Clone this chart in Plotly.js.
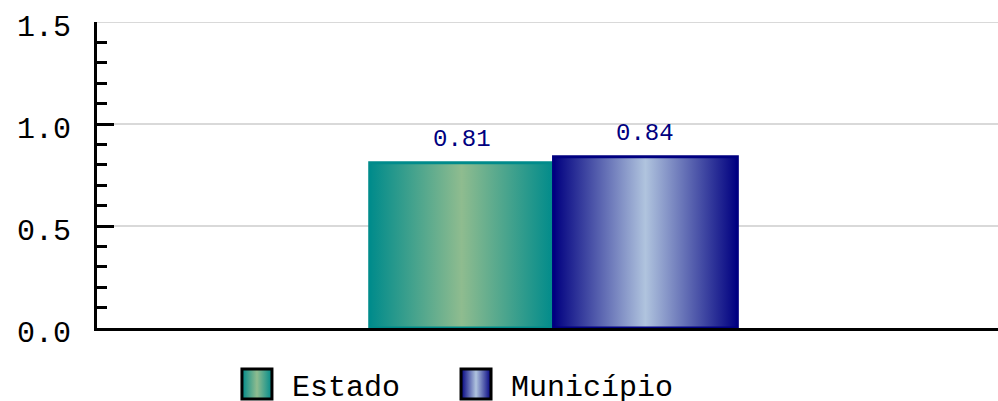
<!DOCTYPE html>
<html>
<head>
<meta charset="utf-8">
<script src="https://cdn.plot.ly/plotly-3.0.1.min.js"></script>
<style>
html,body{margin:0;padding:0;background:#fff;}
#chart{width:998px;height:401px;}
</style>
</head>
<body>
<svg width="0" height="0" style="position:absolute">
  <defs>
    <linearGradient id="gradEstado" x1="0" y1="0" x2="1" y2="0">
      <stop offset="0" stop-color="#008B8B"/>
      <stop offset="0.5" stop-color="#8FBC8F"/>
      <stop offset="1" stop-color="#008B8B"/>
    </linearGradient>
    <linearGradient id="gradMunicipio" x1="0" y1="0" x2="1" y2="0">
      <stop offset="0" stop-color="#000080"/>
      <stop offset="0.5" stop-color="#B0C4DE"/>
      <stop offset="1" stop-color="#000080"/>
    </linearGradient>
  </defs>
</svg>
<div id="chart"></div>
<script>
// ---- data ----
const categories = ['Índice'];
const seriesNames = ['Estado', 'Município'];
const estadoValues = [0.81];
const municipioValues = [0.84];
const yTickVals = [0, 0.5, 1.0, 1.5];
const yTickText = ['0.0', '0.5', '1.0', '1.5'];

// ---- style ----
const edgeColors = ['#008B8B', '#000080'];
const gradientIds = ['gradEstado', 'gradMunicipio'];
const legendIds = ['legend', 'legend2'];
const legendX = [0.2224, 0.4419];
const LEGEND_DROP = 9;
const FONT = 'Liberation Mono, DejaVu Sans Mono, monospace';
const bargap = 0.592;

const seriesValues = [estadoValues, municipioValues];
const traces = seriesNames.map((name, i) => ({
  type: 'bar',
  name: name,
  x: categories,
  y: seriesValues[i],
  legend: legendIds[i],
  marker: {color: edgeColors[i], line: {color: edgeColors[i], width: 3}},
  textposition: 'none',
  hoverinfo: 'none'
}));

// value labels above each bar (positioned via the axis scale)
const barW = (1 - bargap) / seriesNames.length;
const annotations = [];
seriesNames.forEach((name, i) => {
  seriesValues[i].forEach((v, j) => {
    annotations.push({
      xref: 'x', yref: 'y',
      x: j - (1 - bargap) / 2 + barW * (i + 0.5),
      y: v,
      text: v.toFixed(2),
      showarrow: false,
      yanchor: 'bottom',
      yshift: 8,
      font: {family: FONT, size: 24, color: '#000080'}
    });
  });
});

function legendCfg(x) {
  return {
    orientation: 'h',
    xref: 'container', yref: 'container',
    x: x, xanchor: 'left',
    y: 0, yanchor: 'bottom',
    itemwidth: 60,
    font: {family: FONT, size: 30, color: '#000'},
    bgcolor: 'rgba(0,0,0,0)',
    borderwidth: 0
  };
}

const layout = {
  width: 998, height: 401,
  margin: {l: 97, r: 0, t: 22, b: 73, pad: 0, autoexpand: false},
  paper_bgcolor: '#fff', plot_bgcolor: '#fff',
  barmode: 'group',
  bargap: bargap,
  bargroupgap: 0,
  showlegend: true,
  font: {family: FONT, size: 30, color: '#000'},
  xaxis: {
    type: 'category',
    range: [-0.5067, 0.4933],
    showticklabels: false,
    ticks: '',
    showgrid: false,
    zeroline: false,
    showline: true, linecolor: '#000', linewidth: 3,
    fixedrange: true
  },
  yaxis: {
    range: [0, 1.5],
    tickvals: yTickVals,
    ticktext: yTickText,
    ticks: 'inside', ticklen: 17, tickwidth: 3, tickcolor: '#000',
    tickfont: {family: FONT, size: 30, color: '#000'},
    ticklabelstandoff: 17,
    ticklabelshift: 3,
    showline: true, linecolor: '#000', linewidth: 3,
    showgrid: true, gridcolor: '#D9D9D9', gridwidth: 2,
    zeroline: false,
    minor: {dtick: 0.1, ticks: 'inside', ticklen: 10, tickwidth: 3, tickcolor: '#000', showgrid: false},
    fixedrange: true
  },
  shapes: [{
    type: 'line', layer: 'below',
    xref: 'paper', x0: 0, x1: 1,
    yref: 'y', y0: yTickVals[yTickVals.length - 1], y1: yTickVals[yTickVals.length - 1],
    line: {color: '#D9D9D9', width: 2}
  }],
  legend: legendCfg(legendX[0]),
  legend2: legendCfg(legendX[1]),
  annotations: annotations
};

function traceIndexOf(el) {
  const d = el.__data__;
  if (d && d[0] && d[0].trace) return d[0].trace.index;
  const t = el.querySelector('.legendtext');
  return t ? seriesNames.indexOf(t.textContent.trim()) : -1;
}

function styleMarks() {
  const gd = document.getElementById('chart');
  gd.querySelectorAll('.barlayer .trace').forEach(tr => {
    const i = traceIndexOf(tr);
    if (i < 0) return;
    tr.querySelectorAll('path').forEach(p => { p.style.fill = 'url(#' + gradientIds[i] + ')'; });
  });
  legendIds.forEach(id => {
    gd.querySelectorAll('.infolayer > g.' + id).forEach(g => {
      const tf = g.getAttribute('transform') || '';
      if (g.dataset.dropped !== tf) {
        const m = tf.match(/translate\(\s*([-\d.]+)[ ,]+([-\d.]+)\s*\)/);
        if (m) {
          const nt = 'translate(' + m[1] + ',' + (parseFloat(m[2]) + LEGEND_DROP) + ')';
          g.setAttribute('transform', nt);
          g.dataset.dropped = nt;
        }
      }
    });
  });
  gd.querySelectorAll('.infolayer .traces').forEach(tr => {
    const i = traceIndexOf(tr);
    if (i < 0 || i >= gradientIds.length) return;
    tr.querySelectorAll('.legendpoints path').forEach(p => {
      p.setAttribute('d', 'M-15,15H15V-15H-15Z');
      p.style.fill = 'url(#' + gradientIds[i] + ')';
      p.style.stroke = '#000';
      p.style.strokeWidth = '3px';
    });
  });
}

const gd = document.getElementById('chart');
Plotly.newPlot(gd, traces, layout, {staticPlot: true, displayModeBar: false}).then(() => {
  styleMarks();
  gd.on('plotly_afterplot', styleMarks);
  setTimeout(styleMarks, 50);
  setTimeout(styleMarks, 300);
});
</script>
</body>
</html>
